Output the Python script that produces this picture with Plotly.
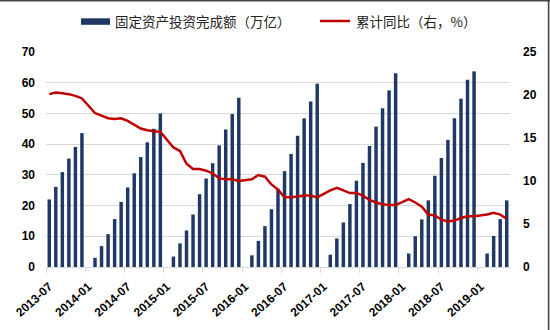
import plotly.graph_objects as go

# ---------------- data ----------------
months = [f"{2013 + (6 + i) // 12}-{(6 + i) % 12 + 1:02d}" for i in range(71)]  # 2013-07 .. 2019-05

fai_cum = [  # 固定资产投资完成额（万亿），January not published
    22.0, 26.1, 30.9, 35.3, 39.1, 43.6,
    None, 3.0, 6.8, 10.7, 15.6, 21.2, 25.9, 30.5, 35.8, 40.6, 45.0, 50.0,
    None, 3.4, 7.7, 11.9, 17.1, 23.7, 28.8, 33.8, 39.6, 44.8, 49.8, 55.1,
    None, 3.8, 8.5, 13.3, 18.8, 25.5, 31.2, 36.8, 42.7, 48.4, 53.9, 59.7,
    None, 4.0, 9.3, 14.5, 20.5, 28.1, 33.9, 39.4, 45.7, 51.7, 57.5, 63.1,
    None, 4.4, 10.0, 15.5, 21.7, 29.7, 35.5, 41.4, 48.4, 54.8, 61.0, 63.7,
    None, 4.4, 10.1, 15.6, 21.7,
]
yoy_cum = [  # 累计同比（%）
    20.1, 20.3, 20.2, 20.1, 19.9, 19.6,
    None, 17.9, 17.6, 17.3, 17.2, 17.3, 17.0, 16.5, 16.1, 15.9, 15.8, 15.7,
    None, 13.9, 13.5, 12.0, 11.4, 11.4, 11.2, 10.9, 10.3, 10.2, 10.2, 10.0,
    None, 10.2, 10.7, 10.5, 9.6, 9.0, 8.1, 8.1, 8.2, 8.3, 8.3, 8.1,
    None, 8.9, 9.2, 8.9, 8.6, 8.6, 8.3, 7.8, 7.5, 7.3, 7.2, 7.2,
    None, 7.9, 7.5, 7.0, 6.1, 6.0, 5.5, 5.3, 5.4, 5.7, 5.9, 5.9,
    None, 6.1, 6.3, 6.1, 5.6,
]
bar_name = "固定资产投资完成额（万亿）"
line_name = "累计同比（右，%）"
left_ticks = [0, 10, 20, 30, 40, 50, 60, 70]
right_ticks = [0, 5, 10, 15, 20, 25]

# ---------------- style ----------------
BAR_COLOR = "#1F3864"
LINE_COLOR = "#C00000"
GRID = "#D9D9D9"
W, H = 550, 330
ML, MR, MT, MB = 46, 40, 52, 63
PW, PH = W - ML - MR, H - MT - MB

def px(x):
    return (x - ML) / PW

def py(y):
    return (H - MB - y) / PH

tick_font = dict(family="Liberation Sans, Arial", size=12, color="#000000", weight="bold")
leg_font = dict(family="Noto Sans CJK SC", size=13.5, color="#222222")

fig = go.Figure()
fig.add_trace(go.Bar(
    x=months, y=fai_cum, name=bar_name, marker=dict(color=BAR_COLOR, line=dict(width=0)),
    yaxis="y", showlegend=False,
))
fig.add_trace(go.Scatter(
    x=months, y=yoy_cum, name=line_name, mode="lines", connectgaps=True,
    line=dict(color=LINE_COLOR, width=2.5), yaxis="y2", showlegend=False,
))

fig.update_layout(
    width=W, height=H,
    margin=dict(l=ML, r=MR, t=MT, b=MB, pad=0),
    paper_bgcolor="white", plot_bgcolor="white",
    bargap=0.47,
    xaxis=dict(
        type="category", range=[-0.5, len(months) - 0.5], automargin=False,
        tickmode="linear", tick0=0, dtick=6, tickson="boundaries",
        ticks="outside", ticklen=5, tickcolor=GRID, tickwidth=1,
        showline=True, linecolor=GRID, linewidth=1,
        showgrid=False, tickangle=-42, tickfont=tick_font, ticklabelstandoff=7,
    ),
    yaxis=dict(
        range=[0, 70], tickvals=left_ticks, showgrid=True, gridcolor=GRID, gridwidth=1,
        zeroline=False, showline=False, ticks="", tickfont=tick_font, ticklabelstandoff=10,
        automargin=False,
    ),
    yaxis2=dict(
        range=[0, 25], tickvals=right_ticks, overlaying="y", side="right",
        showgrid=False, zeroline=False, showline=False, ticks="",
        tickfont=tick_font, ticklabelstandoff=12, automargin=False,
    ),
    shapes=[
        # legend symbols
        dict(type="rect", xref="paper", yref="paper", x0=px(81), x1=px(110), y0=py(18.3), y1=py(24.8),
             fillcolor=BAR_COLOR, line=dict(width=0)),
        dict(type="line", xref="paper", yref="paper", x0=px(320), x1=px(350), y0=py(21), y1=py(21),
             line=dict(color=LINE_COLOR, width=2.5)),
        # frame edges (top, right)
        dict(type="line", xref="paper", yref="paper", x0=px(0), x1=px(W), y0=py(0.8), y1=py(0.8),
             line=dict(color="#444444", width=1.6)),
        dict(type="line", xref="paper", yref="paper", x0=px(548.6), x1=px(548.6), y0=py(0), y1=py(H),
             line=dict(color="#444444", width=1.6)),
    ],
    annotations=[
        dict(text=bar_name, xref="paper", yref="paper", x=px(113), y=py(21.5),
             xanchor="left", yanchor="middle", showarrow=False, font=leg_font),
        dict(text=line_name, xref="paper", yref="paper", x=px(354), y=py(21.5),
             xanchor="left", yanchor="middle", showarrow=False, font=leg_font),
    ],
)

fig.write_html("out.html")
